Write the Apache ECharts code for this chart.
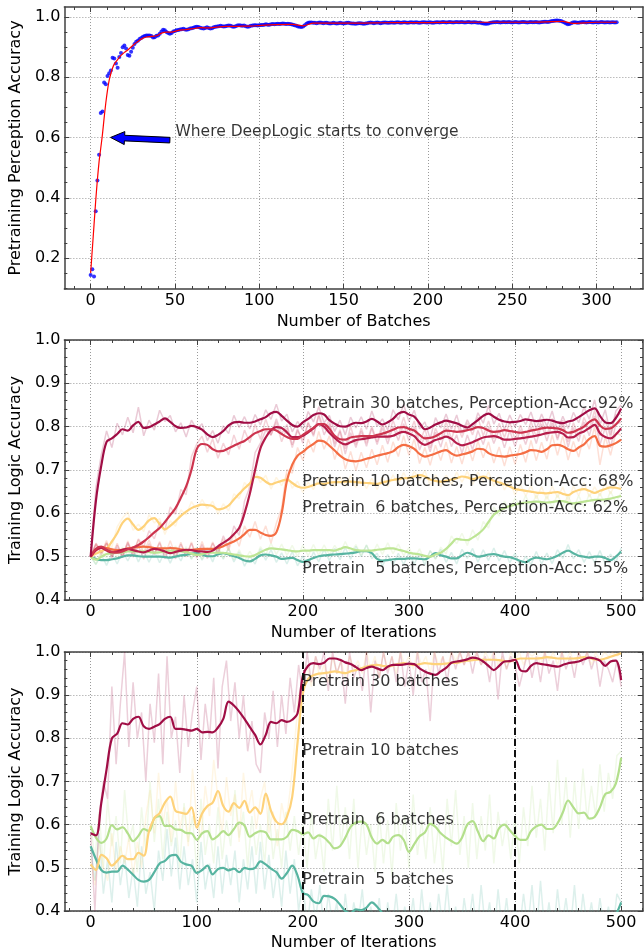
<!DOCTYPE html>
<html>
<head>
<meta charset="utf-8">
<script src="https://cdn.jsdelivr.net/npm/echarts@6.0.0/dist/echarts.min.js"></script>
<style>
  html, body { margin: 0; padding: 0; background: #fff; }
  #chart { width: 644px; height: 952px; }
</style>
</head>
<body>
<div id="chart"></div>
<script>
const FONT = 'DejaVu Sans'

// ---- panel 1: pretraining perception accuracy, one dot per batch (0..312)
const batchAcc = [
  0.144,0.163,0.139,0.355,0.457,0.543,0.681,0.686,0.782,0.776,
  0.804,0.813,0.822,0.864,0.862,0.845,0.831,0.867,0.880,0.899,
  0.905,0.895,0.873,0.871,0.884,0.897,0.910,0.917,0.921,0.926,
  0.930,0.934,0.936,0.938,0.938,0.938,0.936,0.931,0.932,0.937,
  0.938,0.944,0.951,0.957,0.955,0.950,0.946,0.944,0.946,0.951,
  0.953,0.955,0.956,0.958,0.959,0.960,0.958,0.957,0.959,0.961,
  0.962,0.964,0.966,0.967,0.966,0.964,0.962,0.961,0.963,0.965,
  0.963,0.961,0.962,0.965,0.967,0.968,0.969,0.970,0.969,0.968,
  0.969,0.970,0.971,0.970,0.968,0.967,0.969,0.971,0.972,0.971,
  0.970,0.971,0.969,0.967,0.968,0.970,0.971,0.972,0.972,0.971,
  0.972,0.973,0.973,0.974,0.975,0.974,0.974,0.975,0.976,0.975,
  0.976,0.977,0.976,0.977,0.978,0.977,0.976,0.977,0.976,0.975,
  0.974,0.972,0.970,0.968,0.967,0.966,0.968,0.972,0.977,0.980,
  0.981,0.981,0.980,0.980,0.979,0.980,0.981,0.980,0.979,0.980,
  0.980,0.979,0.978,0.979,0.980,0.979,0.978,0.979,0.980,0.979,
  0.978,0.979,0.980,0.980,0.979,0.978,0.978,0.977,0.978,0.979,
  0.979,0.978,0.977,0.978,0.979,0.980,0.981,0.980,0.979,0.980,
  0.981,0.980,0.979,0.980,0.981,0.981,0.980,0.980,0.981,0.981,
  0.980,0.981,0.982,0.981,0.980,0.981,0.982,0.981,0.980,0.981,
  0.982,0.981,0.981,0.982,0.981,0.980,0.981,0.982,0.982,0.981,
  0.981,0.982,0.981,0.980,0.981,0.982,0.982,0.981,0.982,0.983,
  0.982,0.981,0.982,0.983,0.982,0.981,0.982,0.983,0.982,0.982,
  0.983,0.982,0.981,0.982,0.983,0.982,0.981,0.982,0.982,0.981,
  0.980,0.981,0.979,0.978,0.977,0.977,0.978,0.980,0.981,0.982,
  0.982,0.983,0.982,0.981,0.982,0.983,0.982,0.982,0.983,0.982,
  0.981,0.982,0.983,0.982,0.981,0.982,0.983,0.983,0.982,0.981,
  0.982,0.983,0.982,0.982,0.983,0.982,0.981,0.982,0.983,0.984,
  0.984,0.983,0.984,0.985,0.986,0.987,0.988,0.988,0.987,0.986,
  0.984,0.981,0.978,0.975,0.976,0.979,0.981,0.982,0.981,0.980,
  0.981,0.982,0.983,0.982,0.981,0.982,0.983,0.982,0.981,0.982,
  0.982,0.981,0.982,0.983,0.982,0.981,0.982,0.982,0.981,0.982,
  0.982,0.981,0.982
]
// red fitted curve
const fitX = [0,1,2,3,4,5,6,7,8,9,10,11,12,13,14,16,18,20,22,24,26,28,30,33,36,39,42,45,48,52,56,60,65,70,75,80,85,90,95,100,110,120,126,132,140,150,160,170,180,190,200,220,240,260,280,286,300,312]
const fitY = [0.150,0.230,0.310,0.390,0.460,0.520,0.565,0.610,0.665,0.715,0.757,0.790,0.812,0.830,0.843,0.858,0.872,0.882,0.890,0.900,0.910,0.918,0.926,0.933,0.935,0.937,0.946,0.949,0.949,0.955,0.957,0.960,0.964,0.963,0.966,0.968,0.968,0.969,0.969,0.971,0.974,0.975,0.970,0.979,0.979,0.979,0.979,0.980,0.981,0.981,0.981,0.982,0.982,0.982,0.985,0.978,0.982,0.982]
const arrowTip = [11.8, 0.6]
const arrowTail = [47, 0.591]
const convergeText = 'Where DeepLogic starts to converge'
const convergePos = [50, 0.618]

// tick marks
const p1XTicks = [0, 50, 100, 150, 200, 250, 300]
const p1YTicks = [0.2, 0.4, 0.6, 0.8, 1.0]
const iterTicks = [0, 100, 200, 300, 400, 500]
const logicTicks = [0.4, 0.5, 0.6, 0.7, 0.8, 0.9, 1.0]

// ---- panel 2: smoothed curves, one value every 5 iterations (0..500)
const SMOOTH_STEP = 5
const p2Dark = [
  0.500,0.630,0.710,0.765,0.773,0.783,0.794,0.791,0.803,0.811,
  0.797,0.799,0.805,0.812,0.819,0.811,0.801,0.797,0.798,0.802,
  0.799,0.793,0.782,0.776,0.781,0.790,0.803,0.810,0.811,0.809,
  0.809,0.812,0.817,0.822,0.831,0.834,0.825,0.814,0.804,0.800,
  0.810,0.818,0.827,0.831,0.828,0.815,0.807,0.801,0.800,0.805,
  0.809,0.808,0.812,0.818,0.812,0.805,0.810,0.818,0.830,0.834,
  0.828,0.823,0.808,0.794,0.798,0.805,0.810,0.814,0.811,0.808,
  0.802,0.798,0.806,0.815,0.825,0.830,0.823,0.816,0.812,0.810,
  0.811,0.813,0.817,0.815,0.813,0.814,0.816,0.814,0.810,0.808,
  0.812,0.815,0.822,0.830,0.838,0.842,0.825,0.810,0.808,0.820,
  0.842
]
const p2Crimson = [
  0.500,0.518,0.523,0.516,0.511,0.509,0.512,0.517,0.521,0.527,
  0.535,0.545,0.556,0.566,0.580,0.596,0.612,0.636,0.662,0.700,
  0.748,0.760,0.758,0.748,0.743,0.744,0.750,0.756,0.762,0.767,
  0.776,0.785,0.790,0.794,0.794,0.791,0.783,0.776,0.772,0.772,
  0.781,0.789,0.797,0.806,0.806,0.795,0.779,0.771,0.770,0.775,
  0.777,0.778,0.778,0.778,0.781,0.784,0.788,0.793,0.798,0.799,
  0.795,0.791,0.781,0.773,0.774,0.778,0.785,0.791,0.790,0.788,
  0.789,0.792,0.795,0.799,0.797,0.791,0.788,0.789,0.792,0.790,
  0.788,0.786,0.788,0.791,0.793,0.796,0.798,0.797,0.796,0.792,
  0.786,0.788,0.794,0.800,0.811,0.817,0.803,0.795,0.796,0.805,
  0.819
]
const p2Ruby = [
  0.500,0.515,0.520,0.514,0.510,0.512,0.516,0.518,0.515,0.512,
  0.510,0.514,0.518,0.516,0.512,0.508,0.511,0.514,0.516,0.515,
  0.513,0.512,0.511,0.514,0.524,0.532,0.540,0.552,0.566,0.600,
  0.645,0.700,0.750,0.775,0.792,0.799,0.797,0.787,0.776,0.776,
  0.779,0.787,0.796,0.806,0.800,0.786,0.774,0.764,0.759,0.764,
  0.769,0.771,0.773,0.775,0.777,0.777,0.777,0.779,0.785,0.788,
  0.784,0.778,0.765,0.758,0.763,0.769,0.773,0.777,0.772,0.762,
  0.757,0.760,0.764,0.770,0.775,0.777,0.778,0.775,0.770,0.770,
  0.772,0.773,0.775,0.777,0.779,0.782,0.785,0.787,0.788,0.784,
  0.775,0.776,0.784,0.789,0.797,0.804,0.785,0.776,0.773,0.782,
  0.796
]
const p2Orange = [
  0.500,0.515,0.522,0.520,0.517,0.515,0.516,0.519,0.521,0.522,
  0.523,0.522,0.520,0.519,0.519,0.520,0.519,0.517,0.515,0.516,
  0.517,0.518,0.518,0.518,0.520,0.524,0.530,0.535,0.542,0.552,
  0.562,0.562,0.556,0.550,0.548,0.556,0.600,0.675,0.712,0.733,
  0.742,0.752,0.760,0.768,0.766,0.756,0.745,0.733,0.725,0.721,
  0.720,0.722,0.726,0.729,0.733,0.736,0.739,0.743,0.753,0.758,
  0.755,0.749,0.737,0.731,0.734,0.738,0.743,0.746,0.738,0.733,
  0.736,0.739,0.743,0.749,0.748,0.739,0.734,0.732,0.731,0.733,
  0.735,0.737,0.741,0.746,0.745,0.742,0.748,0.757,0.758,0.755,
  0.748,0.744,0.752,0.759,0.772,0.778,0.756,0.754,0.757,0.762,
  0.770
]
const p2Yellow = [
  0.500,0.507,0.513,0.519,0.535,0.554,0.578,0.588,0.574,0.562,
  0.570,0.584,0.589,0.575,0.563,0.571,0.582,0.594,0.604,0.612,
  0.617,0.620,0.619,0.617,0.609,0.611,0.618,0.632,0.645,0.658,
  0.669,0.684,0.682,0.673,0.667,0.671,0.675,0.678,0.670,0.662,
  0.659,0.661,0.665,0.669,0.668,0.671,0.672,0.672,0.673,0.673,
  0.672,0.671,0.670,0.669,0.668,0.671,0.674,0.677,0.679,0.681,
  0.682,0.685,0.688,0.685,0.678,0.675,0.673,0.675,0.678,0.681,
  0.685,0.683,0.679,0.682,0.685,0.681,0.675,0.671,0.667,0.662,
  0.656,0.654,0.652,0.650,0.648,0.647,0.646,0.648,0.649,0.645,
  0.642,0.649,0.654,0.656,0.652,0.647,0.652,0.656,0.660,0.659,
  0.656
]
const p2Green = [
  0.500,0.493,0.500,0.506,0.508,0.509,0.510,0.512,0.512,0.512,
  0.512,0.511,0.509,0.510,0.512,0.514,0.513,0.512,0.511,0.507,
  0.504,0.506,0.509,0.509,0.509,0.509,0.507,0.505,0.503,0.501,
  0.500,0.504,0.510,0.516,0.519,0.518,0.517,0.515,0.513,0.512,
  0.514,0.514,0.515,0.515,0.515,0.515,0.514,0.518,0.522,0.519,
  0.515,0.514,0.514,0.514,0.516,0.517,0.519,0.519,0.516,0.513,
  0.509,0.507,0.505,0.502,0.500,0.505,0.509,0.518,0.530,0.541,
  0.539,0.538,0.544,0.552,0.563,0.580,0.597,0.606,0.612,0.617,
  0.620,0.623,0.625,0.626,0.627,0.626,0.625,0.626,0.628,0.628,
  0.625,0.623,0.625,0.627,0.629,0.631,0.631,0.632,0.634,0.637,
  0.640
]
const p2Teal = [
  0.500,0.495,0.492,0.492,0.494,0.496,0.500,0.503,0.503,0.501,
  0.500,0.500,0.500,0.500,0.499,0.498,0.500,0.503,0.504,0.507,
  0.508,0.505,0.501,0.501,0.505,0.508,0.505,0.501,0.497,0.491,
  0.489,0.495,0.503,0.505,0.503,0.500,0.495,0.496,0.497,0.492,
  0.488,0.492,0.497,0.501,0.503,0.504,0.505,0.506,0.507,0.508,
  0.510,0.513,0.513,0.508,0.495,0.491,0.492,0.494,0.495,0.495,
  0.496,0.496,0.495,0.494,0.500,0.508,0.503,0.500,0.496,0.496,
  0.503,0.509,0.505,0.500,0.502,0.505,0.506,0.503,0.500,0.499,
  0.495,0.490,0.487,0.494,0.498,0.496,0.494,0.497,0.502,0.509,
  0.514,0.508,0.502,0.500,0.498,0.500,0.500,0.497,0.492,0.500,
  0.512
]
// panel 2 raw (faded) curves, every 5 iterations
const p2RawDark = [
  0.500,0.660,0.735,0.790,0.752,0.808,0.781,0.822,0.786,0.845,
  0.779,0.815,0.792,0.838,0.812,0.826,0.788,0.809,0.776,0.815,
  0.793,0.807,0.768,0.791,0.762,0.802,0.784,0.826,0.798,0.823,
  0.795,0.828,0.804,0.839,0.817,0.852,0.813,0.829,0.788,0.812,
  0.792,0.835,0.811,0.846,0.809,0.826,0.789,0.815,0.781,0.822,
  0.797,0.823,0.794,0.836,0.801,0.818,0.792,0.839,0.816,0.851,
  0.812,0.838,0.795,0.811,0.772,0.821,0.797,0.829,0.794,0.827,
  0.785,0.816,0.791,0.832,0.808,0.849,0.806,0.831,0.793,0.827,
  0.799,0.828,0.805,0.834,0.795,0.829,0.801,0.836,0.790,0.824,
  0.796,0.833,0.809,0.845,0.817,0.862,0.804,0.839,0.782,0.836,
  0.850
]
const p2RawCrimson = [
  0.500,0.531,0.510,0.532,0.500,0.521,0.498,0.530,0.508,0.541,
  0.522,0.560,0.541,0.580,0.561,0.615,0.598,0.655,0.643,0.731,
  0.760,0.778,0.741,0.772,0.727,0.762,0.735,0.781,0.748,0.792,
  0.763,0.806,0.771,0.818,0.780,0.811,0.765,0.797,0.752,0.791,
  0.770,0.811,0.782,0.829,0.794,0.815,0.761,0.793,0.749,0.801,
  0.759,0.797,0.762,0.801,0.765,0.808,0.771,0.815,0.780,0.822,
  0.781,0.813,0.762,0.795,0.751,0.796,0.769,0.812,0.771,0.808,
  0.775,0.809,0.781,0.822,0.779,0.813,0.772,0.808,0.775,0.811,
  0.770,0.803,0.771,0.812,0.776,0.818,0.781,0.819,0.774,0.815,
  0.765,0.809,0.778,0.821,0.793,0.838,0.779,0.816,0.775,0.827,
  0.830
]
const p2RawRuby = [
  0.500,0.528,0.506,0.531,0.497,0.527,0.503,0.533,0.499,0.526,
  0.494,0.530,0.505,0.532,0.496,0.524,0.495,0.529,0.502,0.531,
  0.497,0.528,0.496,0.531,0.509,0.548,0.521,0.571,0.549,0.628,
  0.661,0.740,0.762,0.792,0.781,0.818,0.783,0.805,0.758,0.795,
  0.762,0.808,0.778,0.825,0.781,0.807,0.753,0.789,0.737,0.786,
  0.752,0.790,0.755,0.796,0.759,0.798,0.760,0.801,0.768,0.807,
  0.767,0.800,0.746,0.779,0.742,0.787,0.753,0.797,0.754,0.781,
  0.738,0.781,0.747,0.791,0.759,0.799,0.761,0.793,0.751,0.791,
  0.754,0.793,0.759,0.799,0.761,0.806,0.767,0.808,0.769,0.805,
  0.753,0.798,0.766,0.811,0.779,0.825,0.758,0.798,0.752,0.806,
  0.810
]
const p2RawOrange = [
  0.500,0.530,0.509,0.537,0.502,0.531,0.500,0.536,0.505,0.539,
  0.507,0.539,0.506,0.535,0.503,0.537,0.502,0.533,0.499,0.534,
  0.501,0.535,0.502,0.534,0.504,0.541,0.514,0.553,0.524,0.571,
  0.545,0.581,0.540,0.571,0.531,0.577,0.612,0.701,0.693,0.752,
  0.722,0.771,0.741,0.789,0.748,0.779,0.724,0.762,0.702,0.743,
  0.699,0.741,0.705,0.748,0.712,0.757,0.718,0.765,0.731,0.779,
  0.734,0.772,0.715,0.752,0.711,0.757,0.722,0.765,0.716,0.754,
  0.714,0.759,0.721,0.767,0.728,0.765,0.716,0.753,0.709,0.754,
  0.713,0.759,0.718,0.768,0.722,0.764,0.725,0.781,0.734,0.779,
  0.723,0.766,0.730,0.781,0.748,0.801,0.712,0.777,0.734,0.786,
  0.780
]
const p2RawYellow = [
  0.500,0.516,0.501,0.531,0.522,0.569,0.589,0.603,0.561,0.575,
  0.558,0.597,0.578,0.588,0.551,0.583,0.570,0.608,0.596,0.627,
  0.608,0.632,0.611,0.628,0.598,0.622,0.606,0.645,0.634,0.671,
  0.657,0.698,0.671,0.688,0.656,0.683,0.664,0.691,0.658,0.674,
  0.648,0.672,0.655,0.683,0.657,0.684,0.661,0.685,0.662,0.687,
  0.660,0.683,0.657,0.681,0.655,0.683,0.662,0.689,0.667,0.694,
  0.670,0.697,0.676,0.699,0.665,0.689,0.661,0.688,0.666,0.695,
  0.672,0.697,0.666,0.695,0.672,0.696,0.663,0.684,0.654,0.676,
  0.642,0.667,0.640,0.664,0.634,0.661,0.632,0.663,0.636,0.661,
  0.628,0.663,0.641,0.670,0.638,0.661,0.640,0.671,0.645,0.673,
  0.660
]
const p2RawGreen = [
  0.500,0.483,0.512,0.497,0.520,0.499,0.522,0.501,0.524,0.502,
  0.523,0.500,0.521,0.498,0.524,0.502,0.525,0.500,0.523,0.495,
  0.516,0.494,0.521,0.497,0.522,0.496,0.520,0.493,0.516,0.490,
  0.512,0.493,0.523,0.504,0.531,0.505,0.529,0.503,0.526,0.500,
  0.527,0.502,0.528,0.503,0.527,0.504,0.526,0.507,0.535,0.508,
  0.528,0.503,0.527,0.502,0.529,0.505,0.532,0.507,0.529,0.502,
  0.521,0.496,0.518,0.490,0.513,0.494,0.522,0.506,0.548,0.530,
  0.554,0.526,0.562,0.538,0.581,0.566,0.615,0.594,0.628,0.604,
  0.636,0.611,0.641,0.613,0.643,0.614,0.641,0.613,0.644,0.615,
  0.641,0.610,0.641,0.613,0.645,0.618,0.647,0.619,0.651,0.624,
  0.648
]
const p2RawTeal = [
  0.500,0.482,0.505,0.480,0.507,0.483,0.513,0.490,0.516,0.488,
  0.514,0.487,0.513,0.486,0.512,0.485,0.513,0.490,0.518,0.494,
  0.522,0.492,0.515,0.488,0.520,0.494,0.519,0.488,0.511,0.478,
  0.502,0.483,0.518,0.492,0.516,0.487,0.509,0.483,0.512,0.479,
  0.501,0.479,0.511,0.488,0.517,0.491,0.519,0.493,0.521,0.494,
  0.524,0.500,0.527,0.495,0.508,0.478,0.505,0.481,0.508,0.482,
  0.509,0.483,0.508,0.481,0.514,0.495,0.517,0.487,0.510,0.483,
  0.517,0.496,0.519,0.487,0.516,0.491,0.520,0.490,0.514,0.486,
  0.508,0.477,0.501,0.481,0.512,0.483,0.508,0.484,0.516,0.496,
  0.528,0.495,0.516,0.487,0.512,0.486,0.514,0.484,0.506,0.487,
  0.520
]
const p2Labels = [
  ['Pretrain 30 batches, Perception-Acc: 92%', 0.852],
  ['Pretrain 10 batches, Perception-Acc: 68%', 0.672],
  ['Pretrain  6 batches, Perception-Acc: 62%', 0.612],
  ['Pretrain  5 batches, Perception-Acc: 55%', 0.472]
]

// ---- panel 3: smoothed curves every 5 iterations, raw every 4
const p3Dark = [
  0.580,0.575,0.650,0.728,0.800,0.811,0.835,0.832,0.845,0.850,
  0.828,0.822,0.827,0.833,0.845,0.850,0.822,0.822,0.820,0.818,
  0.822,0.814,0.815,0.814,0.825,0.845,0.885,0.876,0.862,0.845,
  0.826,0.808,0.786,0.808,0.838,0.835,0.842,0.838,0.843,0.858,
  0.945,0.968,0.974,0.972,0.975,0.985,0.985,0.982,0.976,0.972,
  0.965,0.958,0.963,0.966,0.962,0.958,0.966,0.970,0.970,0.971,
  0.973,0.972,0.962,0.955,0.950,0.947,0.955,0.963,0.975,0.978,
  0.980,0.983,0.987,0.985,0.978,0.968,0.958,0.968,0.978,0.979,
  0.982,0.958,0.955,0.968,0.974,0.972,0.970,0.968,0.966,0.970,
  0.974,0.976,0.978,0.983,0.987,0.985,0.980,0.968,0.978,0.980,
  0.935
]
const p3Yellow = [
  0.508,0.495,0.530,0.522,0.505,0.516,0.528,0.520,0.520,0.535,
  0.528,0.585,0.615,0.627,0.651,0.665,0.632,0.628,0.625,0.640,
  0.593,0.626,0.643,0.651,0.678,0.643,0.630,0.650,0.639,0.655,
  0.628,0.640,0.625,0.672,0.632,0.607,0.601,0.618,0.665,0.790,
  0.905,0.938,0.946,0.950,0.951,0.953,0.955,0.953,0.951,0.955,
  0.958,0.962,0.966,0.969,0.970,0.968,0.966,0.969,0.972,0.974,
  0.972,0.970,0.972,0.974,0.973,0.972,0.972,0.973,0.975,0.975,
  0.978,0.980,0.981,0.982,0.982,0.982,0.982,0.981,0.979,0.978,
  0.982,0.985,0.985,0.985,0.985,0.986,0.988,0.987,0.985,0.985,
  0.985,0.985,0.986,0.988,0.986,0.983,0.982,0.985,0.989,0.993,
  0.997
]
const p3Green = [
  0.597,0.570,0.558,0.568,0.599,0.589,0.594,0.580,0.562,0.574,
  0.590,0.585,0.615,0.620,0.597,0.597,0.589,0.588,0.581,0.580,
  0.565,0.580,0.585,0.566,0.574,0.585,0.576,0.590,0.605,0.598,
  0.572,0.580,0.585,0.582,0.566,0.566,0.566,0.572,0.588,0.585,
  0.578,0.582,0.568,0.575,0.570,0.558,0.545,0.550,0.570,0.595,
  0.605,0.607,0.600,0.570,0.556,0.565,0.557,0.572,0.576,0.565,
  0.537,0.555,0.573,0.582,0.602,0.595,0.580,0.570,0.562,0.556,
  0.570,0.600,0.608,0.584,0.562,0.575,0.568,0.592,0.600,0.587,
  0.574,0.565,0.565,0.585,0.596,0.600,0.590,0.590,0.603,0.628,
  0.656,0.640,0.626,0.628,0.614,0.618,0.640,0.671,0.676,0.695,
  0.755
]
const p3Teal = [
  0.550,0.520,0.495,0.489,0.491,0.491,0.505,0.496,0.484,0.472,
  0.468,0.472,0.490,0.510,0.516,0.528,0.530,0.514,0.508,0.505,
  0.488,0.495,0.505,0.485,0.497,0.500,0.494,0.498,0.490,0.500,
  0.497,0.500,0.515,0.508,0.498,0.490,0.475,0.488,0.505,0.482,
  0.442,0.437,0.422,0.418,0.435,0.434,0.428,0.415,0.400,0.395,
  0.404,0.402,0.408,0.420,0.410,0.395,0.385,0.380,0.375,0.380,
  0.370,0.375,0.380,0.372,0.368,0.375,0.380,0.376,0.370,0.372,
  0.378,0.382,0.376,0.370,0.365,0.370,0.376,0.380,0.374,0.368,
  0.370,0.375,0.372,0.368,0.372,0.378,0.382,0.378,0.372,0.375,
  0.380,0.376,0.370,0.368,0.372,0.378,0.380,0.376,0.378,0.392,
  0.420
]
const RAW3_STEP = 4
const p3RawDark = [
  0.58,0.40,0.62,0.70,0.66,0.92,0.74,0.88,1.00,0.78,
  0.93,0.80,0.86,0.70,0.88,0.79,0.95,0.74,0.99,0.80,
  0.85,0.72,0.90,0.78,0.86,0.92,0.75,0.88,0.80,0.94,
  0.73,0.92,0.98,0.84,0.93,0.80,0.90,0.77,0.84,0.74,
  0.72,0.86,0.80,0.91,0.78,0.90,0.81,0.94,0.86,0.97,
  0.90,1.00,0.93,0.99,0.96,1.00,0.91,1.00,0.95,0.98,
  0.88,1.00,0.94,0.97,0.91,1.00,0.86,0.98,0.94,1.00,
  0.95,0.99,0.93,1.00,0.92,0.98,0.90,1.00,0.93,0.96,
  0.84,1.00,0.95,0.99,0.93,1.00,0.96,1.00,0.97,1.00,
  0.95,1.00,0.97,0.99,0.93,1.00,0.89,1.00,0.96,0.99,
  0.97,0.92,0.96,1.00,0.94,0.99,0.93,1.00,0.95,0.98,
  0.91,1.00,0.96,0.99,0.94,1.00,0.97,1.00,0.96,0.99,
  0.92,0.98,0.96,0.93,0.98,0.92
]
const p3RawYellow = [
  0.52,0.46,0.56,0.50,0.47,0.58,0.49,0.55,0.51,0.57,
  0.48,0.56,0.50,0.62,0.68,0.58,0.72,0.60,0.66,0.56,
  0.70,0.59,0.64,0.55,0.73,0.61,0.57,0.69,0.62,0.75,
  0.66,0.58,0.71,0.62,0.67,0.56,0.72,0.63,0.68,0.59,
  0.66,0.70,0.58,0.63,0.55,0.65,0.60,0.68,0.78,0.90,
  0.93,0.97,0.92,0.99,0.94,0.97,0.93,0.99,0.95,0.98,
  0.94,0.99,0.96,0.98,0.95,1.00,0.96,0.99,0.94,1.00,
  0.96,0.99,0.95,1.00,0.97,0.99,0.96,1.00,0.97,0.99,
  0.95,1.00,0.97,0.99,0.96,1.00,0.98,1.00,0.97,1.00,
  0.98,1.00,0.97,1.00,0.98,1.00,0.97,0.99,0.96,1.00,
  0.98,1.00,0.97,1.00,0.99,1.00,0.97,1.00,0.98,1.00,
  0.97,1.00,0.98,1.00,0.97,1.00,0.98,1.00,0.97,1.00,
  0.98,1.00,0.99,1.00,0.99,1.00
]
const p3RawGreen = [
  0.60,0.52,0.63,0.50,0.66,0.55,0.62,0.51,0.68,0.56,
  0.60,0.49,0.64,0.54,0.70,0.56,0.66,0.52,0.63,0.55,
  0.61,0.50,0.65,0.56,0.62,0.49,0.66,0.53,0.60,0.51,
  0.64,0.52,0.61,0.55,0.68,0.57,0.63,0.50,0.62,0.53,
  0.60,0.51,0.64,0.52,0.59,0.50,0.63,0.54,0.62,0.53,
  0.60,0.50,0.63,0.52,0.58,0.49,0.66,0.54,0.69,0.55,
  0.64,0.52,0.66,0.50,0.62,0.53,0.60,0.49,0.63,0.51,
  0.61,0.48,0.65,0.54,0.62,0.50,0.67,0.53,0.61,0.52,
  0.64,0.51,0.60,0.49,0.66,0.55,0.68,0.53,0.62,0.50,
  0.65,0.52,0.62,0.54,0.67,0.51,0.63,0.55,0.61,0.52,
  0.62,0.51,0.64,0.55,0.69,0.57,0.66,0.54,0.70,0.58,
  0.75,0.60,0.71,0.57,0.70,0.59,0.73,0.61,0.69,0.62,
  0.74,0.63,0.72,0.66,0.76,0.77
]
const p3RawTeal = [
  0.55,0.47,0.58,0.44,0.52,0.42,0.56,0.46,0.53,0.43,
  0.50,0.41,0.55,0.44,0.49,0.40,0.54,0.47,0.59,0.48,
  0.57,0.45,0.55,0.46,0.52,0.42,0.56,0.45,0.51,0.43,
  0.55,0.44,0.53,0.46,0.54,0.42,0.52,0.45,0.55,0.44,
  0.56,0.45,0.53,0.43,0.50,0.41,0.54,0.44,0.52,0.40,
  0.47,0.36,0.45,0.38,0.46,0.35,0.44,0.37,0.42,0.33,
  0.44,0.35,0.42,0.37,0.45,0.34,0.41,0.36,0.43,0.33,
  0.42,0.35,0.44,0.34,0.41,0.36,0.43,0.33,0.45,0.35,
  0.42,0.34,0.44,0.36,0.46,0.35,0.41,0.33,0.43,0.36,
  0.44,0.34,0.46,0.36,0.42,0.33,0.45,0.35,0.43,0.34,
  0.41,0.35,0.44,0.36,0.46,0.34,0.47,0.35,0.42,0.34,
  0.45,0.36,0.43,0.35,0.46,0.34,0.44,0.36,0.42,0.35,
  0.43,0.36,0.41,0.35,0.44,0.42
]
const p3Labels = [
  ['Pretrain 30 batches', 0.931],
  ['Pretrain 10 batches', 0.772],
  ['Pretrain  6 batches', 0.611],
  ['Pretrain  5 batches', 0.472]
]
const p3Markers = [200, 400]

const colors = {
  dark: '#a00d45', crimson: '#cd344e', ruby: '#b51c4a', orange: '#f46d43',
  yellow: '#fed27a', green: '#bde594', teal: '#57b4a1'
}

// ------------------------------------------------------------------
const chart = echarts.init(document.getElementById('chart'))
const frame = '#404040'

function pairs(arr, step) {
  return arr.map((v, i) => [i * step, v])
}
// minor tick positions between major ticks, spread over the visible range
function minorsOf(majors, parts, min, max) {
  const step = (majors[1] - majors[0]) / parts
  const out = []
  const start = Math.ceil((min - majors[0]) / step)
  const end = Math.floor((max - majors[0]) / step)
  for (let k = start; k <= end; k++) {
    if (k % parts !== 0) out.push(+(majors[0] + k * step).toFixed(6))
  }
  return out
}

// one direction of a grid: main axis (labels, grid lines, major ticks),
// mirror axis (major ticks) and two axes that only carry minor ticks
function axisSet(gi, sides, min, max, splitNumber, majors, minorParts, fmt, name, nameGap) {
  const minors = minorsOf(majors, minorParts, min, max)
  const base = (pos, ticks, len, line) => ({
    type: 'value', gridIndex: gi, min, max, splitNumber, position: pos,
    axisLine: { show: line, onZero: false, lineStyle: { color: frame, width: 1.5 } },
    axisTick: { show: true, inside: true, length: len, customValues: ticks, lineStyle: { color: frame, width: 1 } },
    minorTick: { show: false },
    splitLine: { show: false },
    axisLabel: { show: false }
  })
  const main = base(sides[0], majors, 5, true)
  main.axisLabel = {
    show: true, customValues: majors, fontFamily: FONT, fontSize: 16, color: '#000', margin: 4,
    formatter: fmt
  }
  main.splitLine = { show: true, lineStyle: { type: [1, 2], color: '#9a9a9a', width: 1 } }
  main.name = name
  main.nameLocation = 'middle'
  main.nameGap = nameGap
  main.nameTextStyle = { fontFamily: FONT, fontSize: 16, color: '#000' }
  return [
    main,
    base(sides[1], majors, 5, true),
    base(sides[0], minors, 3, false),
    base(sides[1], minors, 3, false)
  ]
}
const intFmt = v => String(Math.round(v))
const decFmt = v => v.toFixed(1)

function line(gi, data, color, width, opacity, smooth) {
  return {
    type: 'line', xAxisIndex: gi * 4, yAxisIndex: gi * 4, data,
    showSymbol: false, symbol: 'none', smooth: smooth, clip: true,
    lineStyle: { color, width, opacity }, silent: true
  }
}
function textMarks(gi, items, x, size) {
  return {
    type: 'scatter', xAxisIndex: gi * 4, yAxisIndex: gi * 4, z: 20, silent: true,
    symbolSize: 1, itemStyle: { color: 'rgba(0,0,0,0)' },
    data: items.map(it => ({ value: [x, it[1]], name: it[0] })),
    label: {
      show: true, position: 'right', distance: 0,
      formatter: p => p.name, fontFamily: FONT, fontSize: size, color: '#000'
    }
  }
}

const series = []
// panel 1
series.push({
  type: 'scatter', xAxisIndex: 0, yAxisIndex: 0, symbolSize: 4, silent: true,
  itemStyle: { color: '#0000ff' }, data: pairs(batchAcc, 1)
})
series.push(line(0, fitX.map((x, i) => [x, fitY[i]]), '#ff0000', 1.2, 1, 0.2))
series.push(textMarks(0, [[convergeText, convergePos[1]]], convergePos[0], 15.5))

// panel 2
const p2 = [
  [p2RawTeal, p2Teal, colors.teal], [p2RawGreen, p2Green, colors.green],
  [p2RawYellow, p2Yellow, colors.yellow], [p2RawOrange, p2Orange, colors.orange],
  [p2RawRuby, p2Ruby, colors.ruby], [p2RawCrimson, p2Crimson, colors.crimson],
  [p2RawDark, p2Dark, colors.dark]
]
p2.forEach(s => series.push(line(1, pairs(s[0], SMOOTH_STEP), s[2], 1.5, 0.22, false)))
p2.forEach(s => series.push(line(1, pairs(s[1], SMOOTH_STEP), s[2], 2.2, 1, 0.35)))
series.push(textMarks(1, p2Labels, 199, 16))

// panel 3
const p3 = [
  [p3RawTeal, p3Teal, colors.teal], [p3RawGreen, p3Green, '#b3df8c'],
  [p3RawYellow, p3Yellow, colors.yellow], [p3RawDark, p3Dark, colors.dark]
]
p3.forEach(s => series.push(line(2, pairs(s[0], RAW3_STEP), s[2], 1.5, 0.2, false)))
p3.forEach(s => series.push(line(2, pairs(s[1], SMOOTH_STEP), s[2], 2.2, 1, 0.35)))
series[series.length - 1].markLine = {
  silent: true, symbol: 'none', label: { show: false },
  lineStyle: { type: [7, 4], color: '#111', width: 2 },
  data: p3Markers.map(x => ({ xAxis: x }))
}
series.push(textMarks(2, p3Labels, 199, 16))

chart.setOption({
  animation: false,
  backgroundColor: '#fff',
  grid: [
    { left: 62, top: 7, width: 581, height: 282 },
    { left: 60, top: 340, width: 583, height: 260 },
    { left: 60, top: 652, width: 583, height: 260 }
  ],
  xAxis: [
    ...axisSet(0, ['bottom', 'top'], -15.6, 327.6, 7, p1XTicks, 5, intFmt, 'Number of Batches', 25),
    ...axisSet(1, ['bottom', 'top'], -24.8, 520.6, 5, iterTicks, 5, intFmt, 'Number of Iterations', 25),
    ...axisSet(2, ['bottom', 'top'], -24.8, 520.6, 5, iterTicks, 5, intFmt, 'Number of Iterations', 24)
  ],
  yAxis: [
    ...axisSet(0, ['left', 'right'], 0.0975, 1.0325, 5, p1YTicks, 4, decFmt, 'Pretraining Perception Accuracy', 33),
    ...axisSet(1, ['left', 'right'], 0.4, 1.0, 6, logicTicks, 5, decFmt, 'Training Logic Accuracy', 34),
    ...axisSet(2, ['left', 'right'], 0.4, 1.0, 6, logicTicks, 5, decFmt, 'Training Logic Accuracy', 34)
  ],
  series
})

// annotation arrow in panel 1
const tip = chart.convertToPixel({ xAxisIndex: 0, yAxisIndex: 0 }, arrowTip)
const tail = chart.convertToPixel({ xAxisIndex: 0, yAxisIndex: 0 }, arrowTail)
const dx = tail[0] - tip[0], dy = tail[1] - tip[1]
const len = Math.sqrt(dx * dx + dy * dy)
const ux = dx / len, uy = dy / len, nx = -uy, ny = ux
const headLen = 14, headHalf = 6.5, shaftHalf = 2.8
const hb = [tip[0] + ux * headLen, tip[1] + uy * headLen]
chart.setOption({
  graphic: [{
    type: 'polygon', z: 30,
    shape: {
      points: [
        tip,
        [hb[0] + nx * headHalf, hb[1] + ny * headHalf],
        [hb[0] + nx * shaftHalf, hb[1] + ny * shaftHalf],
        [tail[0] + nx * shaftHalf, tail[1] + ny * shaftHalf],
        [tail[0] - nx * shaftHalf, tail[1] - ny * shaftHalf],
        [hb[0] - nx * shaftHalf, hb[1] - ny * shaftHalf],
        [hb[0] - nx * headHalf, hb[1] - ny * headHalf]
      ]
    },
    style: { fill: '#0000ff', stroke: '#000', lineWidth: 1 }
  }]
})
</script>
</body>
</html>
